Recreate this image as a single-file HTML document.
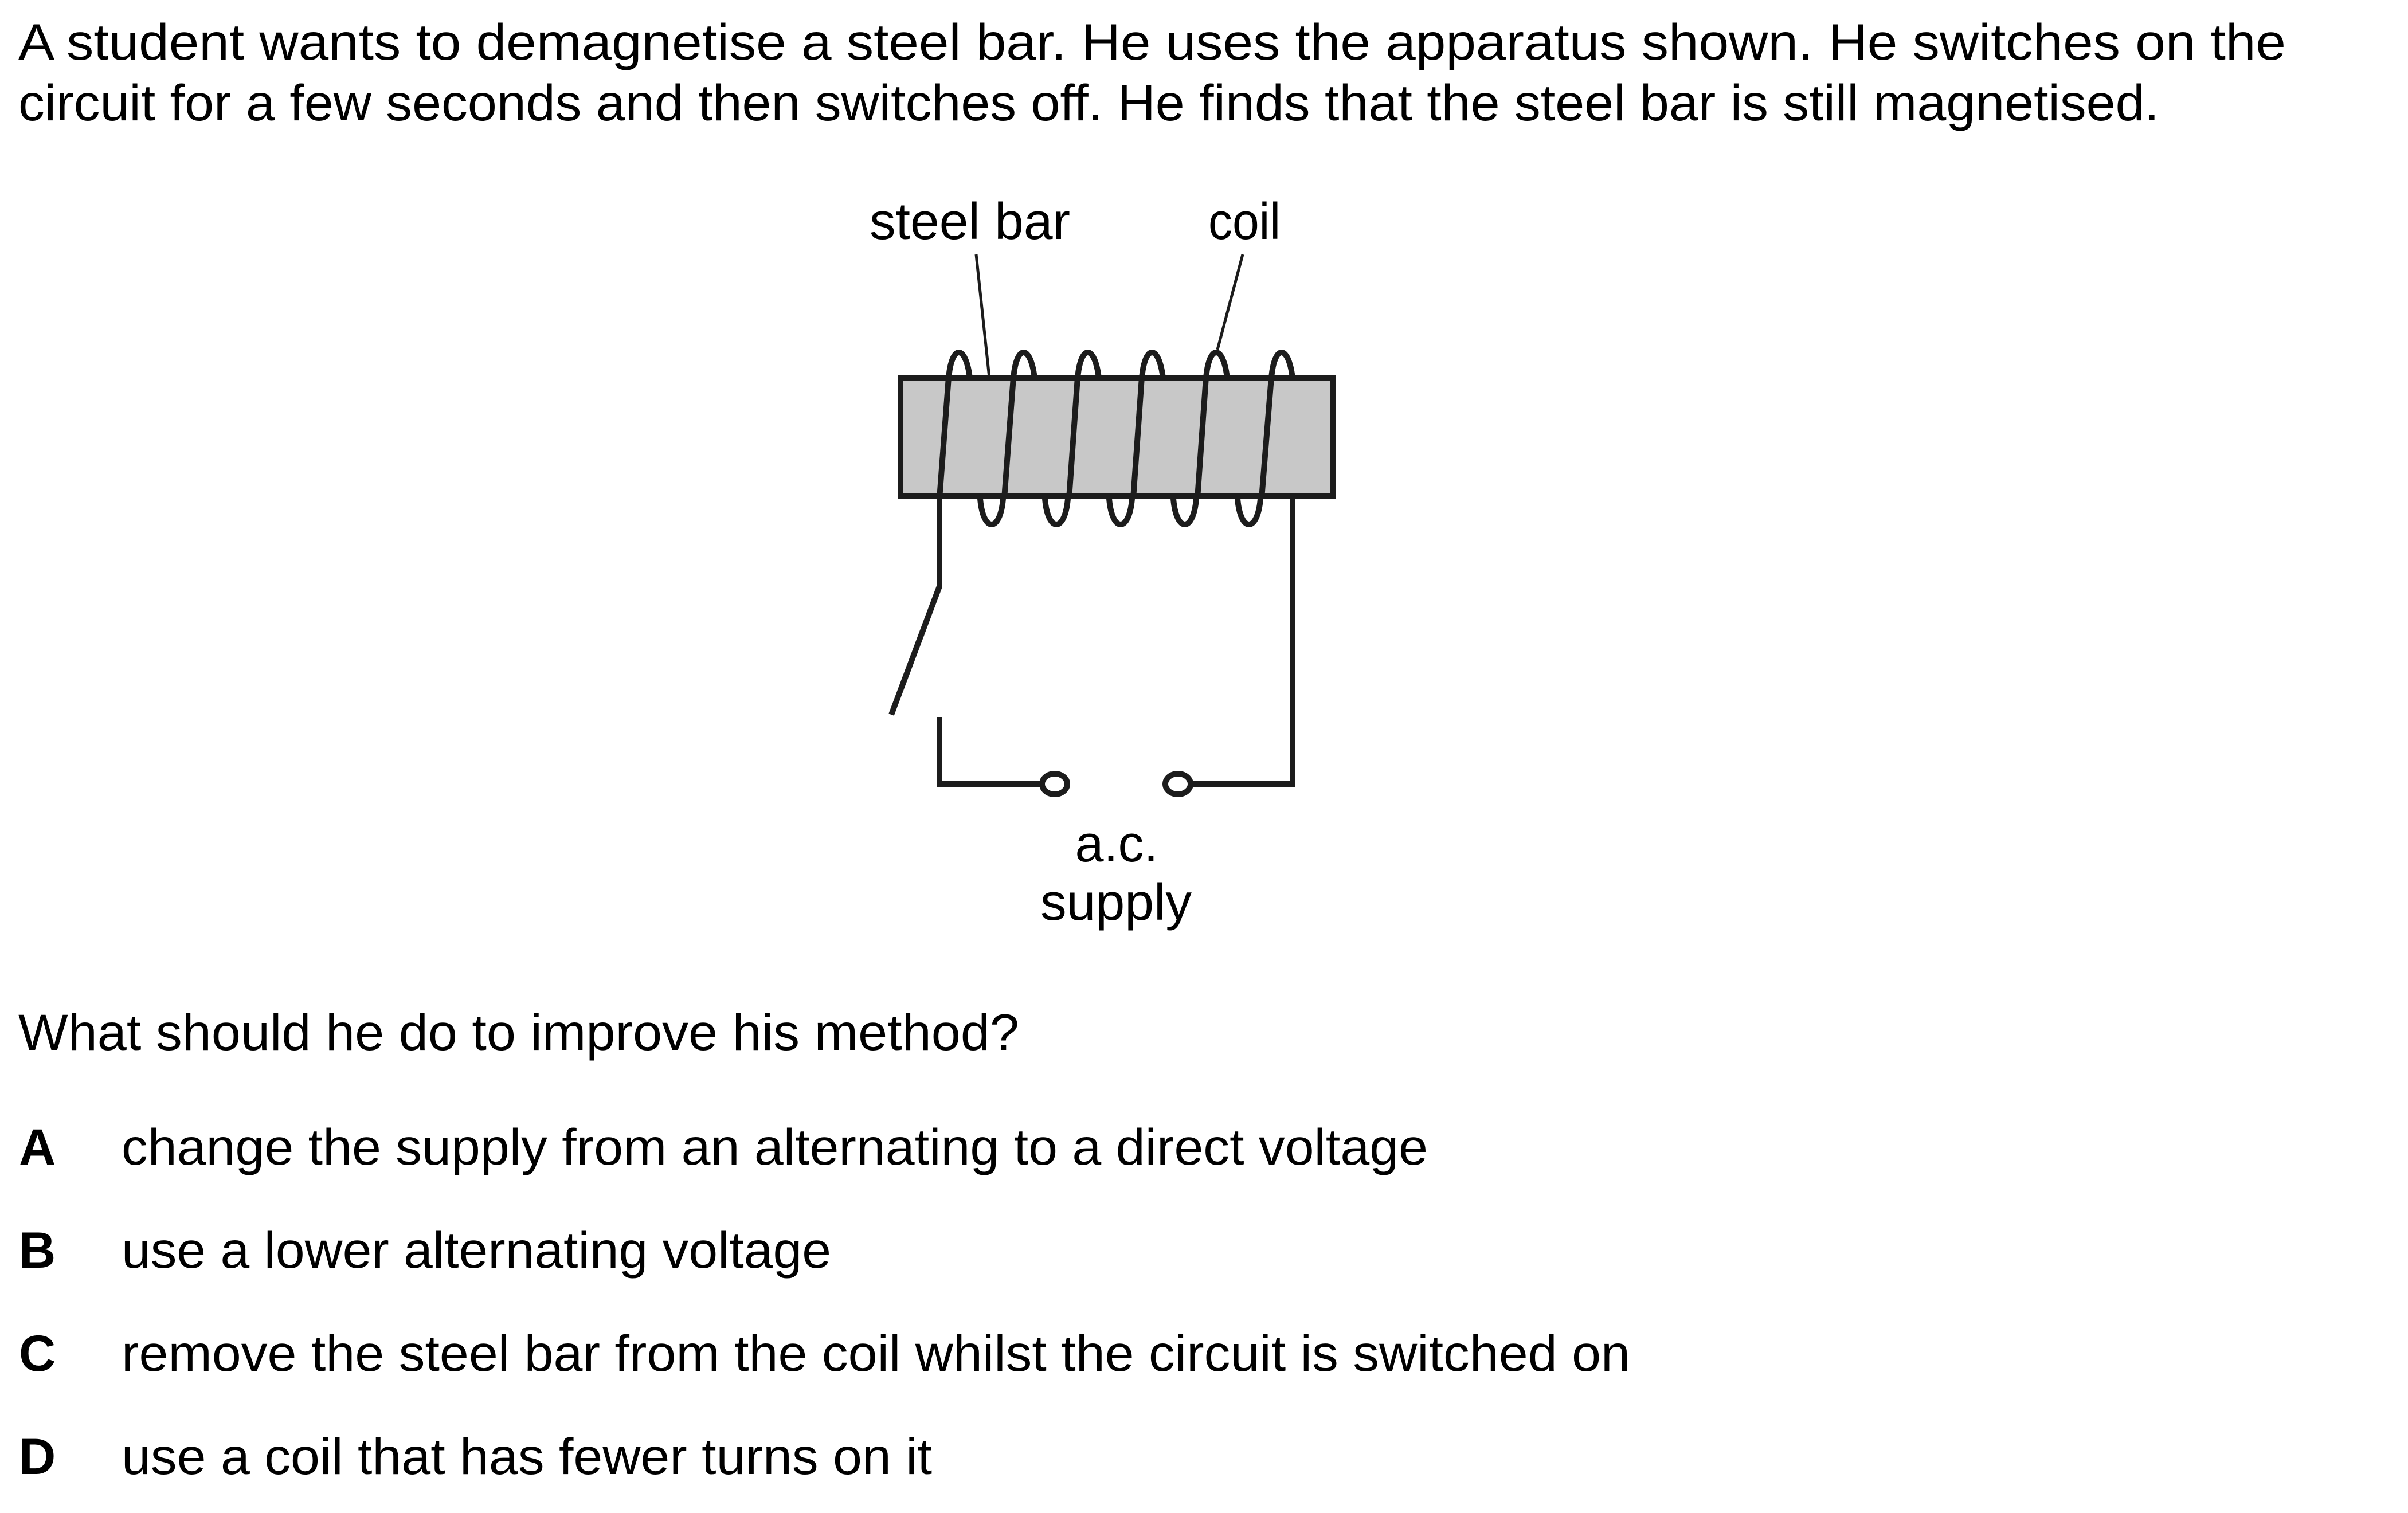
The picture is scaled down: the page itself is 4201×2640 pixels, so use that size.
<!DOCTYPE html>
<html><head><meta charset="utf-8"><style>
html,body{margin:0;padding:0;background:#fff;}
svg{display:block;}
text{font-family:"Liberation Sans",Arial,sans-serif;fill:#000;}
</style></head><body>
<svg width="4201" height="2640" viewBox="0 0 4201 2640" xmlns="http://www.w3.org/2000/svg">
<text x="32" y="104" font-size="89" textLength="3956" lengthAdjust="spacingAndGlyphs">A student wants to demagnetise a steel bar. He uses the apparatus shown. He switches on the</text>
<text x="32" y="210" font-size="89" textLength="3735" lengthAdjust="spacingAndGlyphs">circuit for a few seconds and then switches off. He finds that the steel bar is still magnetised.</text>

<text x="1517" y="417" font-size="90" textLength="350" lengthAdjust="spacingAndGlyphs">steel bar</text>
<text x="2108" y="417" font-size="90" textLength="126" lengthAdjust="spacingAndGlyphs">coil</text>
<line x1="1703" y1="444" x2="1726" y2="659" stroke="#1c1c1c" stroke-width="5"/>
<line x1="2168" y1="444" x2="2124" y2="610" stroke="#1c1c1c" stroke-width="5"/>

<g fill="none" stroke="#1c1c1c" stroke-width="10">
<path d="M1655 660 C1660 600 1685 600 1692 660 L1710 870 C1715 930 1745 930 1750 870"/>
<path d="M1768 660 C1773 600 1798 600 1805 660 L1823 870 C1828 930 1858 930 1863 870"/>
<path d="M1880 660 C1885 600 1910 600 1917 660 L1935 870 C1940 930 1970 930 1975 870"/>
<path d="M1992 660 C1997 600 2022 600 2029 660 L2047 870 C2052 930 2082 930 2087 870"/>
<path d="M2104 660 C2109 600 2134 600 2141 660 L2159 870 C2164 930 2194 930 2199 870"/>
<path d="M2218 660 C2223 600 2248 600 2255 660"/>
</g>
<rect x="1571" y="660" width="755" height="205" fill="#c8c8c8" stroke="#1c1c1c" stroke-width="10"/>
<g fill="none" stroke="#1c1c1c" stroke-width="10">
<line x1="1639" y1="870" x2="1655" y2="658"/>
<line x1="1752" y1="870" x2="1768" y2="658"/>
<line x1="1865" y1="870" x2="1880" y2="658"/>
<line x1="1977" y1="870" x2="1992" y2="658"/>
<line x1="2089" y1="870" x2="2104" y2="658"/>
<line x1="2201" y1="870" x2="2218" y2="658"/>
<polyline points="1639,865 1639,1023 1555,1247"/>
<polyline points="1639,1251 1639,1368 1817,1368"/>
<polyline points="2255,865 2255,1368 2078,1368"/>
<ellipse cx="1840" cy="1368" rx="22" ry="18"/>
<ellipse cx="2055" cy="1368" rx="22" ry="18"/>
</g>
<text x="1948" y="1503" font-size="90" text-anchor="middle">a.c.</text>
<text x="1815" y="1605" font-size="90" textLength="264" lengthAdjust="spacingAndGlyphs">supply</text>

<text x="32" y="1832" font-size="89" textLength="1746" lengthAdjust="spacingAndGlyphs">What should he do to improve his method?</text>
<g font-size="89">
<text x="33" y="2032" font-weight="bold">A</text><text x="212" y="2032" textLength="2279" lengthAdjust="spacingAndGlyphs">change the supply from an alternating to a direct voltage</text>
<text x="33" y="2212" font-weight="bold">B</text><text x="212" y="2212" textLength="1238" lengthAdjust="spacingAndGlyphs">use a lower alternating voltage</text>
<text x="33" y="2392" font-weight="bold">C</text><text x="212" y="2392" textLength="2632" lengthAdjust="spacingAndGlyphs">remove the steel bar from the coil whilst the circuit is switched on</text>
<text x="33" y="2572" font-weight="bold">D</text><text x="212" y="2572" textLength="1414" lengthAdjust="spacingAndGlyphs">use a coil that has fewer turns on it</text>
</g>
</svg>
</body></html>
